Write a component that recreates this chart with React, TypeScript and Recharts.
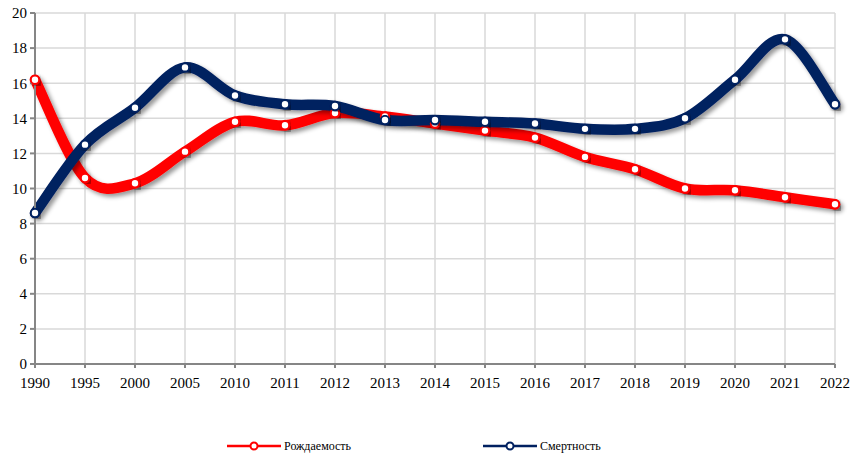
import React from "react";
import { LineChart, Line, XAxis, YAxis, CartesianGrid } from "recharts";

const years = ["1990","1995","2000","2005","2010","2011","2012","2013","2014","2015","2016","2017","2018","2019","2020","2021","2022"];
const birthRate = [16.2,10.6,10.3,12.1,13.8,13.6,14.3,14.1,13.7,13.3,12.9,11.8,11.1,10.0,9.9,9.5,9.1];
const deathRate = [8.6,12.5,14.6,16.9,15.3,14.8,14.7,13.9,13.9,13.8,13.7,13.4,13.4,14.0,16.2,18.5,14.8];
const yTicks = [0,2,4,6,8,10,12,14,16,18,20];
const seriesNames = ["Рождаемость", "Смертность"];

const data = years.map((y, i) => ({ year: y, birth: birthRate[i], death: deathRate[i] }));

// Catmull-Rom style smoothing (like Excel smoothed lines)
const smoothCurve: any = (context: any) => {
  let pts: number[][] = [];
  return {
    areaStart() {},
    areaEnd() {},
    lineStart() { pts = []; },
    point(x: number, y: number) { pts.push([+x, +y]); },
    lineEnd() {
      const n = pts.length;
      if (!n) return;
      context.moveTo(pts[0][0], pts[0][1]);
      for (let i = 0; i < n - 1; i++) {
        const p0 = pts[i - 1] || pts[i];
        const p1 = pts[i];
        const p2 = pts[i + 1];
        const p3 = pts[i + 2] || pts[i + 1];
        context.bezierCurveTo(
          p1[0] + (p2[0] - p0[0]) / 6, p1[1] + (p2[1] - p0[1]) / 6,
          p2[0] - (p3[0] - p1[0]) / 6, p2[1] - (p3[1] - p1[1]) / 6,
          p2[0], p2[1]
        );
      }
    },
  };
};

const RED = "#ff0000";
const BLUE = "#002060";
const FONT = "Times New Roman, Liberation Serif, serif";

const LegendItem = ({ color, label, left }: { color: string; label: string; left: number }) => (
  <div style={{ position: "absolute", left, top: 438, display: "flex", alignItems: "center", fontFamily: FONT, fontSize: 12, color: "#000" }}>
    <svg width={54} height={16}>
      <line x1={0} y1={8} x2={54} y2={8} stroke={color} strokeWidth={2.5} />
      <circle cx={27} cy={8} r={3.5} fill="#fff" stroke={color} strokeWidth={2} />
    </svg>
    <span style={{ marginLeft: 3 }}>{label}</span>
  </div>
);

export default function App() {
  return (
    <div style={{ position: "absolute", left: 0, top: 0, width: 855, height: 462, background: "#fff", fontFamily: FONT }}>
      <LineChart width={855} height={462} data={data} margin={{ top: 13, right: 20, left: 0, bottom: 0 }} style={{ fontFamily: FONT }}>
        <defs>
          <filter id="lineShadow" x="-10%" y="-10%" width="120%" height="130%">
            <feDropShadow dx="3" dy="3" stdDeviation="2" floodColor="#000" floodOpacity="0.4" />
          </filter>
        </defs>
        <CartesianGrid stroke="#d9d9d9" strokeWidth={1.5} />
        <XAxis
          dataKey="year"
          height={98}
          tickSize={4}
          tickMargin={9}
          axisLine={{ stroke: "#868686", strokeWidth: 2 }}
          tickLine={{ stroke: "#868686", strokeWidth: 2 }}
          tick={{ fill: "#000", fontSize: 15, fontFamily: FONT }}
          interval={0}
        />
        <YAxis
          width={35}
          domain={[0, 20]}
          ticks={yTicks}
          tickSize={5}
          tickMargin={3}
          axisLine={{ stroke: "#868686", strokeWidth: 2 }}
          tickLine={{ stroke: "#868686", strokeWidth: 2 }}
          tick={{ fill: "#000", fontSize: 15, fontFamily: FONT }}
          interval={0}
        />
        <Line
          dataKey="birth"
          name={seriesNames[0]}
          type={smoothCurve}
          stroke={RED}
          strokeWidth={10.5}
          strokeLinecap="round"
          filter="url(#lineShadow)"
          dot={{ r: 4.2, fill: "#fff", stroke: RED, strokeWidth: 2 }}
          activeDot={false}
          isAnimationActive={false}
        />
        <Line
          dataKey="death"
          name={seriesNames[1]}
          type={smoothCurve}
          stroke={BLUE}
          strokeWidth={10.5}
          strokeLinecap="round"
          filter="url(#lineShadow)"
          dot={{ r: 4.2, fill: "#fff", stroke: BLUE, strokeWidth: 2 }}
          activeDot={false}
          isAnimationActive={false}
        />
      </LineChart>
      <LegendItem color={RED} label={seriesNames[0]} left={227} />
      <LegendItem color={BLUE} label={seriesNames[1]} left={483} />
    </div>
  );
}
